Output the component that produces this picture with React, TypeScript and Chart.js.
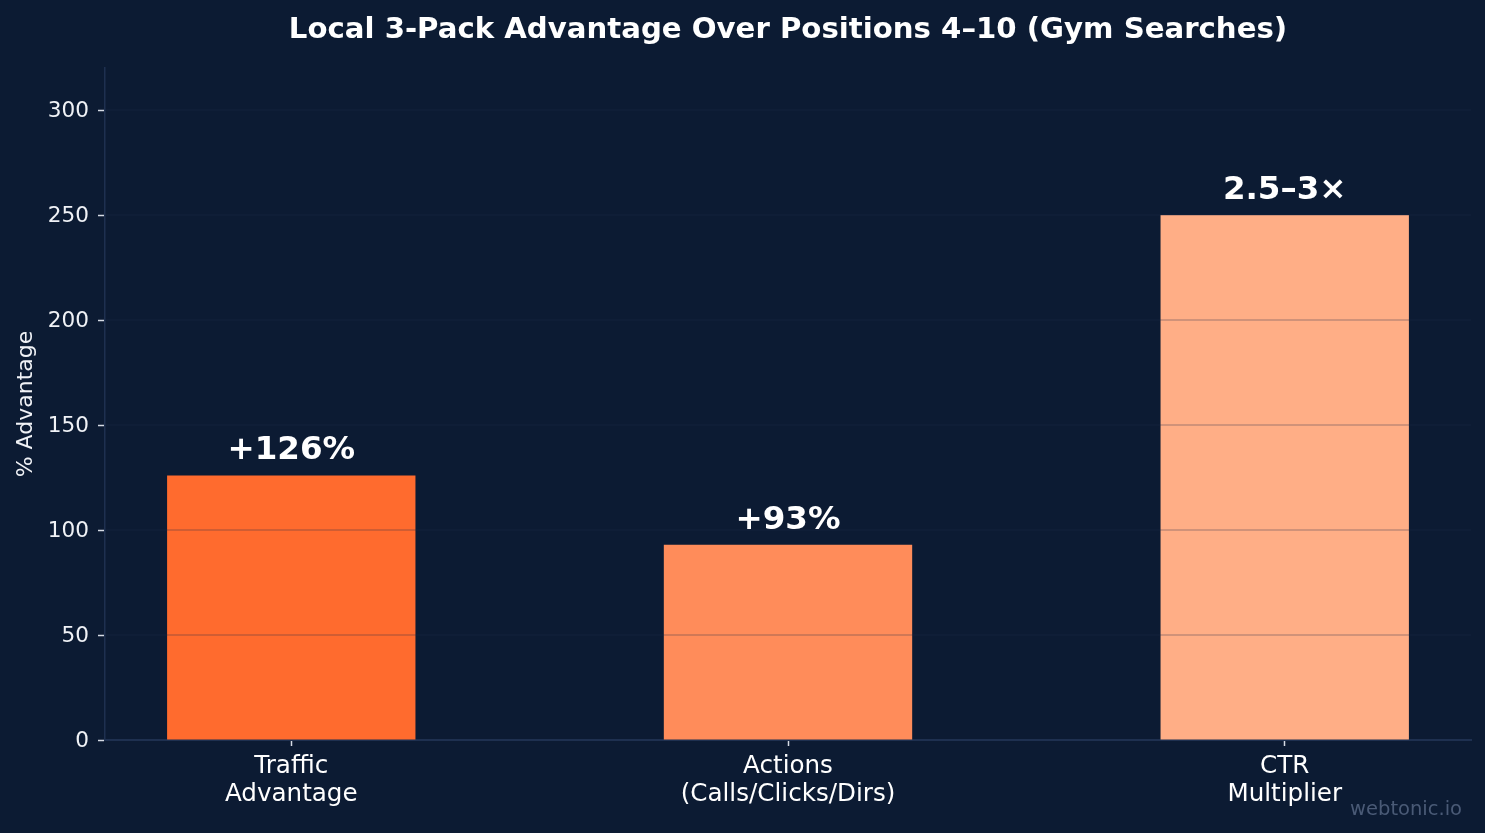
import { useEffect, useRef } from "react";
import { Chart, registerables } from "chart.js";

Chart.register(...registerables);

// Chart data
const categories: string[][] = [
  ["Traffic", "Advantage"],
  ["Actions", "(Calls/Clicks/Dirs)"],
  ["CTR", "Multiplier"],
];
const values: number[] = [126, 93, 250];
const valueLabels: string[] = ["+126%", "+93%", "2.5–3×"];
const barColors: string[] = ["#FF6B2E", "#FF8C5A", "#FFAE86"];
const yTicks: number[] = [0, 50, 100, 150, 200, 250, 300];

const titleText = "Local 3-Pack Advantage Over Positions 4–10 (Gym Searches)";
const yTitleText = "% Advantage";
const watermarkText = "webtonic.io";

const FONT = "'DejaVu Sans', 'Liberation Sans', sans-serif";
const BG = "#0c1b33";

// Grid lines over the bars, value labels, titles and the watermark
const overlayPlugin = {
  id: "overlay",
  afterDatasetsDraw(chart: any) {
    const { ctx, chartArea: a, scales } = chart;
    const x = scales.x;
    const y = scales.y;
    ctx.save();
    ctx.strokeStyle = "rgba(30,46,72,0.28)";
    ctx.lineWidth = 1.6;
    for (const t of yTicks) {
      if (t === 0) continue;
      const py = y.getPixelForValue(t);
      ctx.beginPath();
      ctx.moveTo(a.left, py);
      ctx.lineTo(a.right, py);
      ctx.stroke();
    }
    ctx.font = `bold 32.5px ${FONT}`;
    ctx.fillStyle = "#ffffff";
    ctx.textAlign = "center";
    ctx.textBaseline = "alphabetic";
    values.forEach((v, i) => {
      ctx.fillText(valueLabels[i], x.getPixelForValue(i), y.getPixelForValue(v) - 16);
    });
    ctx.restore();
  },
  afterDraw(chart: any) {
    const { ctx, chartArea: a } = chart;
    ctx.save();
    // title
    ctx.font = `bold 29.2px ${FONT}`;
    ctx.fillStyle = "#ffffff";
    ctx.textAlign = "center";
    ctx.textBaseline = "alphabetic";
    ctx.fillText(titleText, (a.left + a.right) / 2, 38);
    // y axis title
    ctx.save();
    ctx.translate(32, (a.top + a.bottom) / 2);
    ctx.rotate(-Math.PI / 2);
    ctx.font = `22px ${FONT}`;
    ctx.fillStyle = "#f0f2f6";
    ctx.textAlign = "center";
    ctx.textBaseline = "alphabetic";
    ctx.fillText(yTitleText, 0, 0);
    ctx.restore();
    // watermark
    ctx.font = `19.5px ${FONT}`;
    ctx.fillStyle = "#4a5a76";
    ctx.textAlign = "right";
    ctx.fillText(watermarkText, 1462, 815);
    ctx.restore();
  },
};

export default function App() {
  const canvasRef = useRef<HTMLCanvasElement | null>(null);

  useEffect(() => {
    if (!canvasRef.current) return;
    const chart = new Chart(canvasRef.current, {
      type: "bar",
      data: {
        datasets: [
          {
            data: values.map((v, i) => ({ x: i, y: v })),
            backgroundColor: barColors,
            borderWidth: 0,
            barPercentage: 0.5,
            categoryPercentage: 1,
          },
        ],
      },
      options: {
        animation: false,
        responsive: true,
        maintainAspectRatio: false,
        layout: { padding: { top: 68, right: 14, left: 0, bottom: 0 } },
        plugins: {
          legend: { display: false },
          title: { display: false },
          tooltip: { enabled: false },
        },
        scales: {
          x: {
            type: "linear",
            min: -0.375,
            max: 2.375,
            offset: false,
            afterBuildTicks: (scale: any) => {
              scale.ticks = categories.map((_, i) => ({ value: i }));
            },
            afterFit: (scale: any) => {
              scale.height = 93;
            },
            ticks: {
              color: "#ffffff",
              font: { family: FONT, size: 24.6, lineHeight: 1.15 },
              padding: 6.5,
              maxRotation: 0,
              autoSkip: false,
              callback: (v: any) => categories[Math.round(Number(v))] ?? "",
            },
            grid: {
              display: true,
              offset: false,
              drawOnChartArea: false,
              drawTicks: true,
              tickLength: 6,
              tickColor: "#d5dbe4",
              tickWidth: 1.5,
            },
            border: { display: true, color: "#1e3050", width: 2 },
          },
          y: {
            min: 0,
            max: 320,
            afterBuildTicks: (scale: any) => {
              scale.ticks = yTicks.map((v) => ({ value: v }));
            },
            afterFit: (scale: any) => {
              scale.width = 105;
            },
            ticks: {
              color: "#f0f2f6",
              font: { family: FONT, size: 21.6 },
              padding: 9,
              labelOffset: 1.5,
              includeBounds: false,
            },
            grid: {
              display: true,
              drawOnChartArea: false,
              drawTicks: true,
              tickLength: 7,
              tickColor: "#d5dbe4",
              tickWidth: 1.5,
            },
            border: { display: true, color: "#1e3050", width: 1.5 },
          },
        },
      },
      plugins: [overlayPlugin],
    } as any);
    return () => chart.destroy();
  }, []);

  return (
    <div
      style={{
        position: "fixed",
        left: 0,
        top: 0,
        width: 1485,
        height: 833,
        background: BG,
      }}
    >
      <canvas ref={canvasRef} />
    </div>
  );
}
